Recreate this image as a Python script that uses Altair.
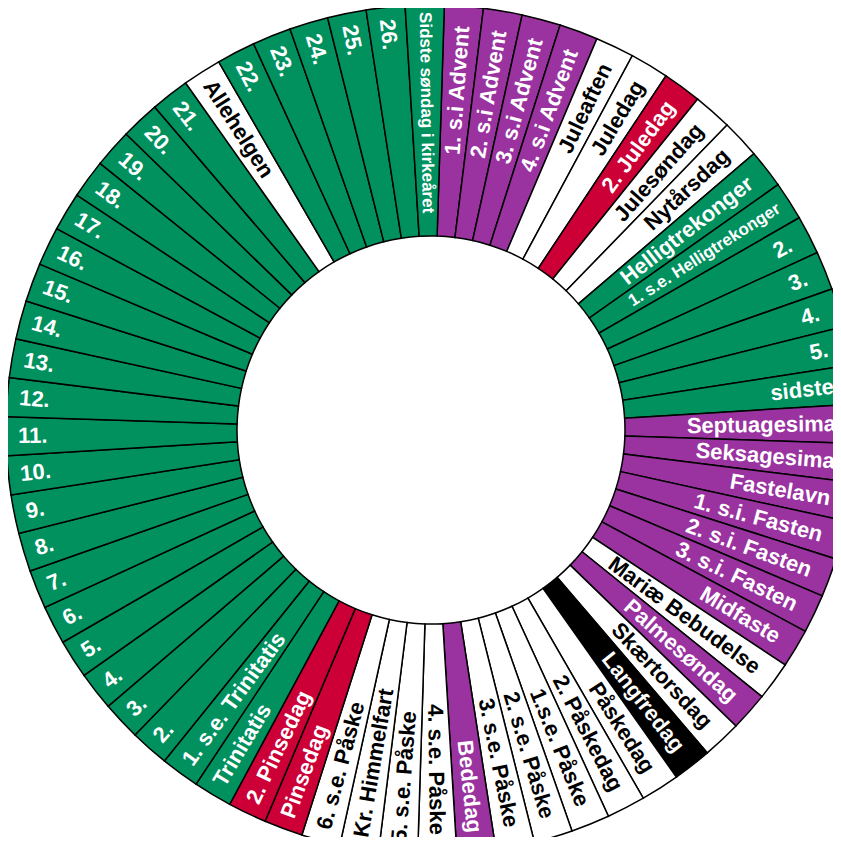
import math
import altair as alt
import pandas as pd

# Segments clockwise from 12 o'clock
labels = [
    "1. s.i Advent", "2. s.i Advent", "3. s.i Advent", "4. s.i Advent",
    "Juleaften", "Juledag", "2. Juledag", "Julesøndag", "Nytårsdag",
    "Helligtrekonger", "1. s.e. Helligtrekonger", "2.", "3.", "4.", "5.", "sidste",
    "Septuagesima", "Seksagesima", "Fastelavn", "1. s.i. Fasten", "2. s.i. Fasten",
    "3. s.i. Fasten", "Midfaste", "Mariæ Bebudelse", "Palmesøndag", "Skærtorsdag",
    "Langfredag", "Påskedag", "2. Påskedag", "1.s.e. Påske", "2. s.e. Påske",
    "3. s.e. Påske", "Bededag", "4. s.e. Påske", "5. s.e. Påske", "Kr. Himmelfart",
    "6. s.e. Påske", "Pinsedag", "2. Pinsedag", "Trinitatis", "1. s.e. Trinitatis",
    "2.", "3.", "4.", "5.", "6.", "7.", "8.", "9.", "10.", "11.", "12.", "13.",
    "14.", "15.", "16.", "17.", "18.", "19.", "20.", "21.",
    "Allehelgen", "22.", "23.", "24.", "25.", "26.",
    "Sidste søndag i kirkeåret",
]
kinds = (
    ["P"] * 4 + ["W", "W", "R", "W", "W"] + ["G"] * 7 + ["P"] * 7
    + ["W", "P", "W", "B", "W", "W", "W", "W", "W", "P", "W", "W", "W", "W", "R", "R"]
    + ["G"] * 22 + ["W"] + ["G"] * 6
)
small_labels = ["1. s.e. Helligtrekonger", "Sidste søndag i kirkeåret"]

kind_domain = ["G", "P", "W", "R", "B"]
kind_colors = ["#00915f", "#9a33a0", "#ffffff", "#cc0036", "#000000"]

n = len(labels)
df = pd.DataFrame({"idx": list(range(n)), "label": labels, "kind": kinds})
df["start"] = df["idx"]
df["end"] = df["idx"] + 1
df["mid"] = df["idx"] + 0.5

OFFSET_DEG = 1.8
off = math.radians(OFFSET_DEG)
theta_scale = alt.Scale(domain=[0, n], range=[off, off + 2 * math.pi])
CX, CY = 423, 422
R_OUT, R_IN = 425, 194

base = alt.Chart(df)

arcs = base.mark_arc(
    innerRadius=R_IN, outerRadius=R_OUT, stroke="black", strokeWidth=1.5
).encode(
    theta=alt.Theta("start:Q", scale=theta_scale, stack=None),
    theta2="end:Q",
    color=alt.Color("kind:N", scale=alt.Scale(domain=kind_domain, range=kind_colors), legend=None),
    x=alt.value(CX),
    y=alt.value(CY),
)

small_expr = "indexof(" + str(small_labels).replace("'", '"') + ", datum.label) >= 0"

text_base = base.transform_calculate(
    deg=f"datum.mid * 360 / {n} + {OFFSET_DEG}"
).transform_calculate(
    ang="(datum.deg < 180 ? datum.deg + 270 : datum.deg + 90) % 360"
)

def text_layer(right, small):
    cond = "datum.deg < 180" if right else "datum.deg >= 180"
    cond += " && " + (small_expr if small else "!(" + small_expr + ")")
    if small:
        rad = 413 if right else 418
    else:
        rad = 405 if right else 413
    mark = dict(
        align="right" if right else "left",
        baseline="middle",
        font="Liberation Sans",
        fontWeight="bold",
        fontSize=17 if small else 22,
        radius=rad,
    )
    return text_base.transform_filter(cond).mark_text(**mark).encode(
        theta=alt.Theta("mid:Q", scale=theta_scale, stack=None),
        text="label:N",
        angle=alt.Angle("ang:Q", scale=None),
        color=alt.condition("datum.kind == 'W'", alt.value("black"), alt.value("white")),
        x=alt.value(CX),
        y=alt.value(CY),
    )

chart = alt.layer(
    arcs,
    text_layer(True, False),
    text_layer(False, False),
    text_layer(True, True),
    text_layer(False, True),
).properties(
    width=825, height=829, autosize=alt.AutoSizeParams(type="none"), padding=0,
    background="white",
).configure_view(strokeWidth=0)

chart.save("out.html", embed_options={"renderer": "svg", "actions": False})
